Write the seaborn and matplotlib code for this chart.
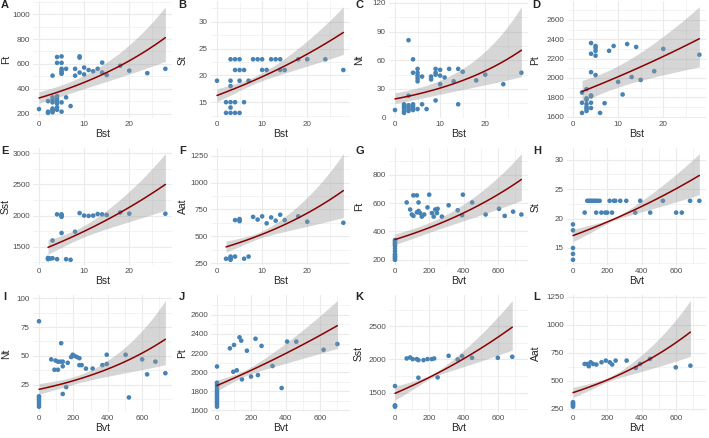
import numpy as np
import pandas as pd
import matplotlib
matplotlib.use("Agg")
import matplotlib.pyplot as plt
import seaborn as sns

# ========== DATA ==========
# Bst panels
a_bst = [0, 2, 2, 2, 3, 3, 3, 3, 3, 3, 3, 3, 4, 4, 4, 4, 4, 4, 4, 4, 5, 5, 5, 5, 5, 5, 5, 5,
         6, 6, 7, 8, 8, 9, 9, 9, 10, 10, 11, 12, 13, 14, 14, 15, 18, 20, 24, 28]
a_ft = [236, 205, 215, 300, 210, 220, 230, 240, 290, 310, 330, 505, 230, 250, 280, 300, 320, 340, 608, 655,
        215, 290, 660, 608, 520, 530, 545, 560, 330, 560, 260, 560, 505, 660, 650, 530, 570, 515, 550, 540,
        560, 610, 530, 510, 585, 545, 525, 560]

b_bst = [0, 2, 2, 3, 3, 3, 3, 3, 3, 4, 4, 4, 4, 5, 5, 5, 5, 6, 6, 7, 8, 9, 10, 10, 11, 12, 13, 14, 14,
         15, 18, 20, 24, 28]
b_st = [19, 13, 15, 13, 14, 15, 18, 19, 23, 13, 15, 21, 23, 13, 19, 21, 23, 15, 21, 19, 23, 23, 23, 21,
        21, 23, 23, 23, 21, 21, 23, 23, 23, 21]

c_bst = [0, 2, 2, 2, 2, 2, 3, 3, 3, 3, 3, 3, 4, 4, 4, 4, 4, 4, 5, 5, 5, 5, 5, 5, 6, 6, 7, 8, 8,
         9, 9, 9, 9, 10, 10, 10, 11, 12, 13, 14, 14, 15, 18, 20, 24, 28]
c_nt = [8, 5, 7, 10, 12, 14, 7, 9, 11, 13, 23, 81, 8, 10, 12, 14, 47, 61, 9, 38, 41, 44, 47, 51, 14, 43,
        9, 40, 43, 18, 45, 47, 51, 35, 44, 50, 42, 51, 38, 14, 51, 48, 39, 45, 35, 47]

d_bst = [2, 2, 2, 3, 3, 3, 3, 3, 3, 3, 4, 4, 4, 4, 4, 4, 4, 5, 5, 5, 5, 5, 6, 7, 8, 9, 10, 11, 12,
         13, 14, 15, 18, 20, 28]
d_pt = [1850, 1745, 1640, 1885, 1790, 1775, 1730, 1700, 1680, 1660, 2360, 2250, 2060, 1820, 1810, 1745,
        1690, 2330, 2310, 2280, 2230, 2030, 1640, 1740, 2280, 2330, 1960, 1830, 2350, 2010, 2320, 1980,
        2070, 2300, 2240]

e_bst = [2, 2, 2, 2.5, 3, 3, 4, 4, 5, 5, 5, 5, 6, 7, 8, 9, 10, 11, 12, 13, 14, 15, 18, 20, 28]
e_sst = [1310, 1300, 1320, 1310, 1600, 1315, 2020, 1300, 2020, 2000, 1980, 1720, 1300, 1290, 1740, 2040,
         2000, 1995, 2000, 2025, 2020, 2010, 2050, 2030, 2030]

f_bst = [2, 3, 3, 3, 3, 4, 4, 5, 5, 5, 6, 7, 8, 9, 10, 11, 12, 13, 14, 15, 18, 20, 28]
f_aat = [290, 280, 290, 300, 310, 310, 650, 640, 650, 660, 290, 310, 680, 655, 685, 620, 675, 645, 700,
         650, 685, 635, 625]

# Bvt panels
g_bvt = [0, 0, 0, 0, 0, 0, 0, 0, 0, 0, 0, 0, 68, 88, 98, 107, 107, 127, 127, 137, 137, 146, 156, 170,
         189, 199, 215, 225, 234, 244, 248, 273, 312, 365, 390, 395, 449, 527, 605, 638, 687, 735]
g_ft = [200, 210, 220, 230, 240, 260, 280, 300, 310, 320, 330, 340, 605, 555, 520, 510, 655, 655, 535,
        605, 545, 530, 505, 520, 570, 660, 530, 505, 555, 530, 560, 505, 585, 550, 515, 660, 605, 520,
        560, 510, 540, 520]

h_bvt = [0, 0, 0, 0, 0, 83, 93, 103, 112, 122, 132, 141, 155, 213, 238, 246, 275, 310, 391, 523, 681,
         735, 68, 135, 165, 188, 199, 227, 362, 449, 600, 633]
h_st = [13, 14, 15, 18, 19, 23, 23, 23, 23, 23, 23, 23, 23, 23, 23, 23, 23, 23, 23, 23, 23, 23, 21, 21,
        21, 21, 21, 21, 21, 21, 21, 21]

i_bvt = [0, 0, 0, 0, 0, 0, 0, 71, 96, 90, 110, 110, 125, 129, 138, 138, 138, 158, 167, 187, 196, 206,
         221, 235, 235, 248, 273, 312, 369, 394, 394, 504, 523, 600, 629, 677, 735]
i_nt = [80, 6, 8, 10, 12, 14, 15, 47, 46, 38, 38, 45, 45, 61, 45, 41, 17, 23, 44, 49, 51, 50, 49, 48,
        42, 42, 39, 39, 42, 43, 51, 51, 14, 47, 34, 45, 35]

j_bvt = [0, 0, 0, 0, 0, 0, 0, 0, 0, 0, 0, 0, 0, 0, 75, 99, 95, 115, 131, 141, 145, 174, 198, 224, 238,
         259, 323, 376, 408, 461, 620, 700]
j_pt = [2060, 1890, 1870, 1850, 1820, 1800, 1780, 1760, 1740, 1720, 1700, 1680, 1660, 1640, 2250, 2285,
        2005, 2020, 2365, 2330, 1925, 2225, 1955, 2350, 1970, 2275, 2065, 1835, 2320, 2320, 2235, 2295]

k_bvt = [0, 0, 0, 0, 68, 88, 103, 127, 136, 136, 166, 189, 214, 228, 248, 312, 365, 390, 448, 598, 682]
k_sst = [1600, 1310, 1300, 1290, 2015, 2030, 2005, 2005, 1990, 1725, 1990, 2005, 2005, 2015, 1730, 2055,
         2000, 2050, 2025, 2025, 2040]

l_bvt = [0, 0, 0, 0, 0, 68, 84, 92, 103, 117, 136, 166, 191, 214, 228, 248, 312, 365, 390, 448, 598, 683]
l_aat = [270, 280, 290, 300, 310, 650, 650, 630, 665, 650, 645, 665, 680, 665, 645, 680, 680, 615, 650,
         695, 620, 635]

# fitted curve (log-link smooth) read at the left / right end of each panel, A..L
fit_left = [325, 16.25, 19.6, 1860, 1490, 400, 343, 17.1, 21, 1861, 1490, 395]
fit_right = [811, 28, 70.5, 2405, 2500, 925, 767, 27.3, 64.4, 2487, 2485, 934]
band_left_upper = [375, 17.5, 26, 1975, 1610, 455, 383, 17.9, 26, 1920, 1590, 443]
band_right_upper = [1060, 32.8, 116, 2735, 2995, 1270, 950, 30.8, 98, 2750, 2880, 1215]

letters = ["A", "B", "C", "D", "E", "F", "G", "H", "I", "J", "K", "L"]
x_names = ["Bst"] * 6 + ["Bvt"] * 6
y_names = ["Ft", "St", "Nt", "Pt", "Sst", "Aat", "Ft", "St", "Nt", "Pt", "Sst", "Aat"]
x_data = [a_bst, b_bst, c_bst, d_bst, e_bst, f_bst, g_bvt, h_bvt, i_bvt, j_bvt, k_bvt, l_bvt]
y_data = [a_ft, b_st, c_nt, d_pt, e_sst, f_aat, g_ft, h_st, i_nt, j_pt, k_sst, l_aat]
y_ticks = [[200, 400, 600, 800, 1000], [15, 20, 25, 30], [0, 30, 60, 90, 120],
           [1600, 1800, 2000, 2200, 2400, 2600], [1500, 2000, 2500, 3000], [250, 500, 750, 1000, 1250],
           [200, 400, 600, 800], [15, 20, 25, 30], [25, 50, 75, 100],
           [1600, 1800, 2000, 2200, 2400, 2600], [1500, 2000, 2500], [250, 500, 750, 1000, 1250]]
x_ticks = {"Bst": [0, 10, 20], "Bvt": [0, 200, 400, 600]}

# ========== STYLE ==========
sns.set_style("white")
plt.rcParams["font.family"] = ["Liberation Sans", "DejaVu Sans"]

POINT = "#4682B4"
LINE = "#8B0000"
GRID = "#EBEBEB"

fig, axes = plt.subplots(3, 4, figsize=(7.09, 4.38), dpi=100)
fig.subplots_adjust(left=0.0461, right=0.9953, top=0.9968, bottom=0.0594, wspace=0.2806, hspace=0.2575)

# shared x ranges (scales trained on all rows)
x_ranges = {}
for name in ["Bst", "Bvt"]:
    vals = np.concatenate([np.array(x_data[i], float) for i in range(12) if x_names[i] == name])
    x_ranges[name] = (0.0, vals.max())


def expand(lo, hi, frac=0.05):
    pad = (hi - lo) * frac
    return lo - pad, hi + pad


def minor_from(major, lim):
    step = major[1] - major[0]
    cands = [major[0] - step / 2] + [m + step / 2 for m in major]
    return [c for c in cands if lim[0] <= c <= lim[1]]


for i, ax in enumerate(axes.flat):
    x = np.array(x_data[i], float)
    y = np.array(y_data[i], float)

    # smooth curve + confidence band on the log scale
    x0, x1 = x.min(), x.max()
    xx = np.linspace(x0, x1, 120)
    t = (xx - x0) / (x1 - x0)
    eta = np.log(fit_left[i]) + t * (np.log(fit_right[i]) - np.log(fit_left[i]))
    s0 = np.log(band_left_upper[i] / fit_left[i])
    s1 = np.log(band_right_upper[i] / fit_right[i])
    xc = x.mean()
    k = (s1 ** 2 - s0 ** 2) / ((x1 - xc) ** 2 - (x0 - xc) ** 2)
    vmin = max(s0 ** 2 - k * (x0 - xc) ** 2, 0.05 * s0 ** 2)
    se = np.sqrt(vmin + k * (xx - xc) ** 2)
    fit = pd.DataFrame({"x": xx, "fit": np.exp(eta), "lo": np.exp(eta - se), "hi": np.exp(eta + se)})

    pts = pd.DataFrame({"x": x, "y": y})
    sns.scatterplot(data=pts, x="x", y="y", ax=ax, color=POINT, s=11, edgecolor="none", zorder=2)
    ax.fill_between(fit["x"], fit["lo"], fit["hi"], color="#999999", alpha=0.4, lw=0, zorder=3)
    sns.lineplot(data=fit, x="x", y="fit", ax=ax, color=LINE, lw=1.1, zorder=4)

    xr = x_ranges[x_names[i]]
    xlim = expand(*xr)
    ylim = expand(min(y.min(), fit["lo"].min()), max(y.max(), fit["hi"].max()))
    ax.set_xlim(xlim)
    ax.set_ylim(ylim)

    xt = x_ticks[x_names[i]]
    yt = [v for v in y_ticks[i] if ylim[0] <= v <= ylim[1]]
    ax.set_xticks(xt)
    ax.set_yticks(yt)
    ax.set_xticks(minor_from(xt, xlim), minor=True)
    ax.set_yticks(minor_from(y_ticks[i], ylim), minor=True)
    ax.set_yticklabels([f"{v:g}" for v in yt])

    ax.grid(which="major", color=GRID, lw=0.8, zorder=0)
    ax.grid(which="minor", color=GRID, lw=0.4, zorder=0)
    ax.set_axisbelow(True)
    sns.despine(ax=ax, left=True, bottom=True)
    ax.tick_params(which="both", length=0, labelsize=5.8, labelcolor="#4D4D4D", pad=2)

    ax.set_xlabel(x_names[i], fontsize=7.5, labelpad=1)
    ax.set_ylabel(y_names[i], fontsize=7.5)
    row, col = divmod(i, 4)
    pos = ax.get_position()
    label_x_fig = (col * 176.5 + 11) / 709
    ax.yaxis.set_label_coords((label_x_fig - pos.x0) / pos.width, 0.5)

    fig.text((col * 177.25 + 5) / 709, 1 - (row * 146 + 5) / 438, letters[i],
             fontsize=8, fontweight="bold", ha="center", va="center")

fig.savefig("out.png", dpi=100)
plt.close(fig)
